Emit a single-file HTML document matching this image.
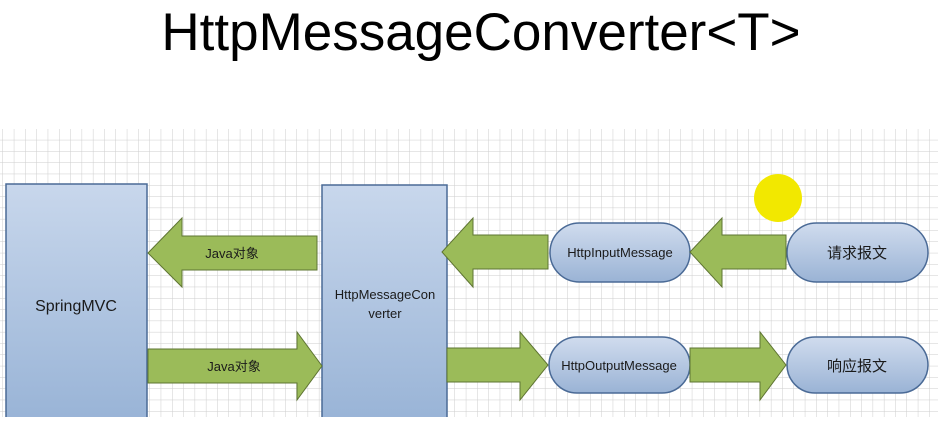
<!DOCTYPE html>
<html><head><meta charset="utf-8"><style>
body{margin:0;width:938px;height:417px;overflow:hidden;background:#fff;font-family:"Liberation Sans","Noto Sans CJK SC",sans-serif;}
</style></head><body>
<svg width="938" height="417" xmlns="http://www.w3.org/2000/svg">
<defs>
<pattern id="g" x="3" y="129" width="11.3" height="11.3" patternUnits="userSpaceOnUse">
<path d="M11.3 0V11.3M0 11.3H11.3" stroke="#cdcdcd" stroke-width="1" fill="none"/>
</pattern>
<linearGradient id="b" x1="0" y1="0" x2="0" y2="1"><stop offset="0" stop-color="#c8d7ec"/><stop offset="1" stop-color="#98b3d6"/></linearGradient>
<linearGradient id="p" x1="0" y1="0" x2="0" y2="1"><stop offset="0" stop-color="#d0dcee"/><stop offset="1" stop-color="#9ab3d5"/></linearGradient>
</defs>
<rect x="0" y="129" width="938" height="288" fill="url(#g)"/>
<text x="481" y="50" text-anchor="middle" font-size="53" fill="#000">HttpMessageConverter&lt;T&gt;</text>
<g stroke="#4a6a96" stroke-width="1.5">
<rect x="6" y="184" width="141" height="240" fill="url(#b)"/>
<rect x="322" y="185" width="125" height="240" fill="url(#b)"/>
<rect x="550" y="223" width="140" height="59" rx="29.5" fill="url(#p)"/>
<rect x="787" y="223" width="141" height="59" rx="29.5" fill="url(#p)"/>
<rect x="549" y="337" width="141" height="56" rx="28" fill="url(#p)"/>
<rect x="787" y="337" width="141" height="56" rx="28" fill="url(#p)"/>
</g>
<g fill="#9bbb59" stroke="#5e7432" stroke-width="1">
<polygon points="317,236 182,236 182,218 148,253 182,287 182,270 317,270"/>
<polygon points="148,349 297,349 297,332 322,366 297,400 297,383 148,383"/>
<polygon points="548,235 473,235 473,218 442,252 473,287 473,269 548,269"/>
<polygon points="786,235 722,235 722,218 690,252 722,287 722,269 786,269"/>
<polygon points="447,348 520,348 520,332 548,365 520,400 520,382 447,382"/>
<polygon points="690,348 760,348 760,332 786,365 760,400 760,382 690,382"/>
</g>
<circle cx="778" cy="198" r="24" fill="#f2e800"/>
<g font-size="13" fill="#1a1a1a" text-anchor="middle">
<text x="232" y="258">Java对象</text>
<text x="234" y="371">Java对象</text>
<text x="76" y="311" font-size="16">SpringMVC</text>
<text x="385" y="299">HttpMessageCon</text>
<text x="385" y="318">verter</text>
<text x="620" y="257">HttpInputMessage</text>
<text x="619" y="370">HttpOutputMessage</text>
<text x="857" y="258" font-size="15">请求报文</text>
<text x="857" y="371" font-size="15">响应报文</text>
</g>
</svg>
</body></html>
